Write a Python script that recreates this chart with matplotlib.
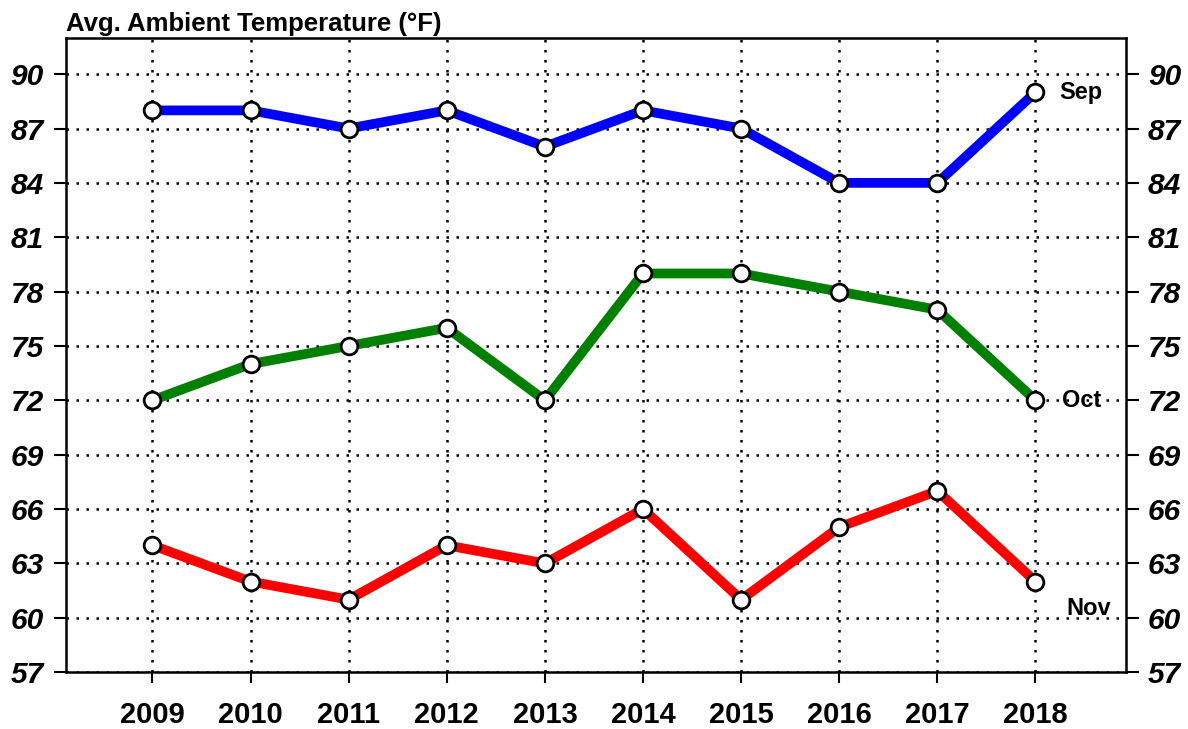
import matplotlib
matplotlib.use("Agg")
import matplotlib.pyplot as plt

plt.rcParams['font.family'] = ['Liberation Sans', 'DejaVu Sans']

years = [2009, 2010, 2011, 2012, 2013, 2014, 2015, 2016, 2017, 2018]
sep = [88, 88, 87, 88, 86, 88, 87, 84, 84, 89]
oct_ = [72, 74, 75, 76, 72, 79, 79, 78, 77, 72]
nov = [64, 62, 61, 64, 63, 66, 61, 65, 67, 62]
yticks = [57, 60, 63, 66, 69, 72, 75, 78, 81, 84, 87, 90]

# name, values, colour, label y, label x offset (years)
series = [("Sep", sep, "#0000ff", 89.0, 0.24),
          ("Oct", oct_, "#008000", 72.0, 0.27),
          ("Nov", nov, "#ff0000", 60.5, 0.31)]

fig = plt.figure(figsize=(11.88, 7.29), dpi=100)
ax = fig.add_axes([0.0556, 0.078, 0.892, 0.870])

for name, vals, col, ly, dx in series:
    ax.plot(years, vals, color=col, lw=7, solid_capstyle='butt', zorder=3)
    ax.plot(years, vals, 'o', ms=12, mfc='white', mec='black', mew=2, zorder=4)
    ax.text(years[-1] + dx, ly, name, fontsize=17, fontweight='bold',
            ha='left', va='center', zorder=5)

ax.set_xlim(2008.12, 2018.92)
ax.set_ylim(57, 92)
ax.set_xticks(years)
ax.set_xticklabels([str(y) for y in years], fontsize=21, fontweight='bold')
ax.set_yticks(yticks)
ax.set_yticklabels([str(t) for t in yticks], fontsize=21.5, fontweight='bold', style='italic')

ax.tick_params(axis='y', which='both', direction='out', length=9, width=1.5,
               left=True, right=True, labelleft=True, labelright=True, pad=7)
ax.tick_params(axis='x', direction='out', length=8, width=1.5, pad=13)

ax.grid(True, color='black', linestyle=(0, (1, 3)), lw=1.8)
for s in ax.spines.values():
    s.set_linewidth(1.8)

ax.text(0.0, 1.003, "Avg. Ambient Temperature (°F)", transform=ax.transAxes,
        fontsize=18.5, fontweight='bold', ha='left', va='bottom')

fig.savefig("out.png", dpi=100)
